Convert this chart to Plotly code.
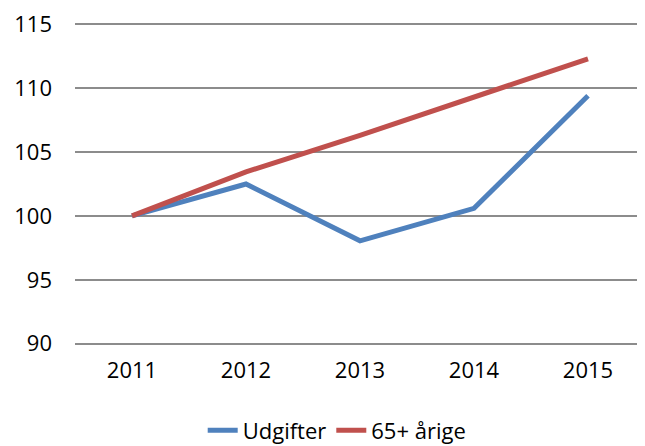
import plotly.graph_objects as go

years = ["2011", "2012", "2013", "2014", "2015"]
udgifter = [100.0, 102.5, 98.05, 100.6, 109.4]
aarige65 = [100.0, 103.45, 106.3, 109.3, 112.3]
y_ticks = [90, 95, 100, 105, 110, 115]

fig = go.Figure()
fig.add_trace(go.Scatter(x=years, y=udgifter, mode="lines", name="Udgifter",
                         line=dict(color="#4F81BD", width=5)))
fig.add_trace(go.Scatter(x=years, y=aarige65, mode="lines", name="65+ årige",
                         line=dict(color="#C0504D", width=5)))

fig.update_layout(
    width=637, height=438,
    margin=dict(l=67, r=0, t=15, b=101, autoexpand=False),
    paper_bgcolor="white", plot_bgcolor="white",
    font=dict(family="Open Sans", size=22, color="#000000"),
    showlegend=True,
    legend=dict(orientation="h", x=0.46, xanchor="center",
                y=-0.265, yanchor="middle",
                font=dict(size=22), itemwidth=30, tracegroupgap=0),
    xaxis=dict(type="category", range=[-0.5, 4.5], showgrid=False, zeroline=False,
               showline=False, ticks="", ticklabelstandoff=10),
    yaxis=dict(range=[89.9, 115.1], tickvals=y_ticks, showgrid=True, gridcolor="#8c8c8c",
               gridwidth=1.5, zeroline=False, showline=False, ticks="",
               ticklabelstandoff=22, ticklabeloverflow="allow"),
)
fig.write_html("out.html")
